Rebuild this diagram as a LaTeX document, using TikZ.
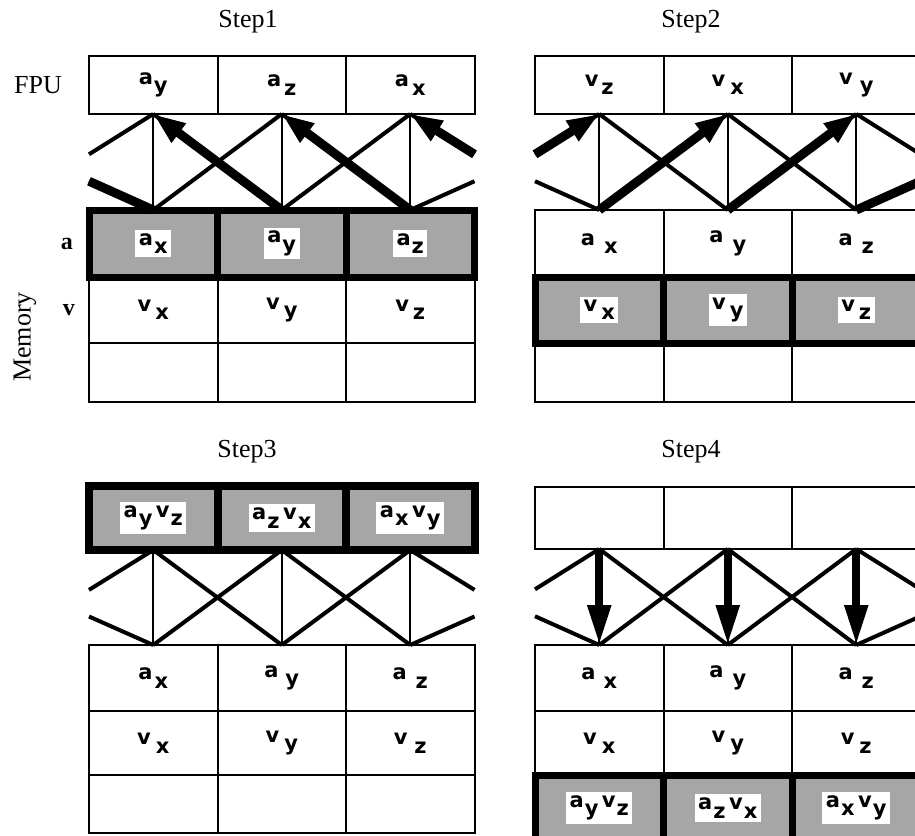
\documentclass[tikz,border=0pt]{standalone}
\usepackage{fontspec}
\setmainfont{Liberation Serif}
\newfontfamily\labfont{DejaVu Sans}
\usetikzlibrary{arrows.meta,positioning,calc}
\setlength{\fboxsep}{3.5pt}
\newcommand{\lab}[3][1pt]{#2\kern#1\raisebox{-8.5pt}{#3}}
\newcommand{\hl}[1]{\colorbox{white}{#1}}
\tikzset{
  cell/.style={draw, line width=2pt, minimum width=128.5pt, inner sep=0pt, outer sep=0pt,
    anchor=north west, font=\labfont\bfseries\fontsize{21}{25}\selectfont},
  hcell/.style={cell, line width=7pt, fill=black!35},
  title/.style={font=\fontsize{26}{30}\selectfont},
  side/.style={inner sep=0pt, font=\fontsize{26}{30}\selectfont},
  xline/.style={line width=4pt},
  vline/.style={line width=2.4pt},
  mv/.style={line width=9pt, -{Triangle[length=32pt,width=22pt]}},
  dn/.style={line width=8pt, -{Triangle[length=40pt,width=22pt]}},
}
% switch between FPU row and first memory row
\newcommand{\crossbar}[1]{%
  \coordinate (#1lt) at ($(#1f1.south west)!0.42!(#1m11.north west)$);
  \coordinate (#1lb) at ($(#1f1.south west)!0.70!(#1m11.north west)$);
  \coordinate (#1rt) at ($(#1f3.south east)!0.42!(#1m13.north east)$);
  \coordinate (#1rb) at ($(#1f3.south east)!0.70!(#1m13.north east)$);
  \foreach \i in {1,2,3} \draw[vline] (#1f\i.south) -- (#1m1\i.north);
  \foreach \i/\j in {1/2,2/3} \draw[xline] (#1f\i.south) -- (#1m1\j.north) (#1f\j.south) -- (#1m1\i.north);
  \draw[xline] (#1f1.south) -- (#1lt) (#1m11.north) -- (#1lb)
    (#1f3.south) -- (#1rt) (#1m13.north) -- (#1rb);
}
\begin{document}
\begin{tikzpicture}[x=1pt, y=-1pt]
  \useasboundingbox (0,0) rectangle (915,835);
  \clip (0,0) rectangle (915,835);

  % Step1
  \node[title] (t1) at (248,22) {Step1};
  \foreach \i/\t in {1/{\lab{a}{y}},2/{\lab[3pt]{a}{z}},3/{\lab[3pt]{a}{x}}}
    \node[cell, minimum height=58pt] (Af\i) at ({89+128.5*(\i-1)},56) {\t};
  \foreach \i/\t in {1/x,2/y,3/z}
    \node[hcell, minimum height=67pt] (Am1\i) at ({89+128.5*(\i-1)},210) {\hl{\lab{a}{\t}}};
  \foreach \i/\t in {1/x,2/y,3/z}
    \node[cell, minimum height=66pt] (Am2\i) at ({89+128.5*(\i-1)},277) {\lab[4pt]{v}{\t}};
  \foreach \i in {1,2,3}
    \node[cell, minimum height=59pt] (Am3\i) at ({89+128.5*(\i-1)},343) {};
  \crossbar{A}
  \draw[mv] (Am12.north) -- (Af1.south);
  \draw[mv] (Am13.north) -- (Af2.south);
  \draw[line width=9pt] (Alb) -- (Am11.north);
  \draw[mv] (Art) -- (Af3.south);

  \node[side, left=27pt of Af1] (fpu) {FPU};
  \node[side, font=\fontsize{24}{28}\selectfont\bfseries, left=16pt of Am11] (rowa) {a};
  \node[side, font=\fontsize{24}{28}\selectfont\bfseries, left=14pt of Am21] (rowv) {v};
  \node[side, rotate=90] (mem) at (25,337) {Memory};

  % Step2
  \node[title] (t2) at (691,22) {Step2};
  \foreach \i/\t in {1/{\lab[3pt]{v}{z}},2/{\lab[5pt]{v}{x}},3/{\lab[7pt]{v}{y}}}
    \node[cell, minimum height=58pt] (Bf\i) at ({535+128.5*(\i-1)},56) {\t};
  \foreach \i/\t in {1/x,2/y,3/z}
    \node[cell, minimum height=67pt] (Bm1\i) at ({535+128.5*(\i-1)},210) {\lab[9pt]{a}{\t}};
  \foreach \i/\t in {1/x,2/y,3/z}
    \node[hcell, minimum height=66pt] (Bm2\i) at ({535+128.5*(\i-1)},277) {\hl{\lab[4pt]{v}{\t}}};
  \foreach \i in {1,2,3}
    \node[cell, minimum height=59pt] (Bm3\i) at ({535+128.5*(\i-1)},343) {};
  \crossbar{B}
  \draw[mv] (Bm11.north) -- (Bf2.south);
  \draw[mv] (Bm12.north) -- (Bf3.south);
  \draw[line width=9pt] (Bm13.north) -- (Brb);
  \draw[mv] (Blt) -- (Bf1.south);

  % Step3
  \node[title] (t3) at (247,452) {Step3};
  \foreach \i/\t in {1/{\lab{a}{y}\,\lab{v}{z}},2/{\lab{a}{z}\,\lab{v}{x}},3/{\lab{a}{x}\,\lab{v}{y}}}
    \node[hcell, line width=8pt, minimum height=64pt] (Cf\i) at ({89+128.5*(\i-1)},486) {\hl{\t}};
  \foreach \i/\t in {1/{\lab[2pt]{a}{x}},2/{\lab[7pt]{a}{y}},3/{\lab[9pt]{a}{z}}}
    \node[cell, minimum height=66pt] (Cm1\i) at ({89+128.5*(\i-1)},645) {\t};
  \foreach \i/\t in {1/{\lab[5pt]{v}{x}},2/{\lab[5pt]{v}{y}},3/{\lab[7pt]{v}{z}}}
    \node[cell, minimum height=64pt] (Cm2\i) at ({89+128.5*(\i-1)},711) {\t};
  \foreach \i in {1,2,3}
    \node[cell, minimum height=58pt] (Cm3\i) at ({89+128.5*(\i-1)},775) {};
  \crossbar{C}

  % Step4
  \node[title] (t4) at (691,452) {Step4};
  \foreach \i in {1,2,3}
    \node[cell, minimum height=62pt] (Df\i) at ({535+128.5*(\i-1)},487) {};
  \foreach \i/\t in {1/{\lab[8pt]{a}{x}},2/{\lab[9pt]{a}{y}},3/{\lab[9pt]{a}{z}}}
    \node[cell, minimum height=66pt] (Dm1\i) at ({535+128.5*(\i-1)},645) {\t};
  \foreach \i/\t in {1/x,2/y,3/z}
    \node[cell, minimum height=64pt] (Dm2\i) at ({535+128.5*(\i-1)},711) {\lab[5pt]{v}{\t}};
  \foreach \i/\t in {1/{\lab{a}{y}\,\lab{v}{z}},2/{\lab{a}{z}\,\lab{v}{x}},3/{\lab{a}{x}\,\lab{v}{y}}}
    \node[hcell, minimum height=66pt] (Dm3\i) at ({535+128.5*(\i-1)},775) {\hl{\t}};
  \crossbar{D}
  \foreach \i in {1,2,3}
    \draw[dn] (Df\i.south) -- (Dm1\i.north);
\end{tikzpicture}
\end{document}
